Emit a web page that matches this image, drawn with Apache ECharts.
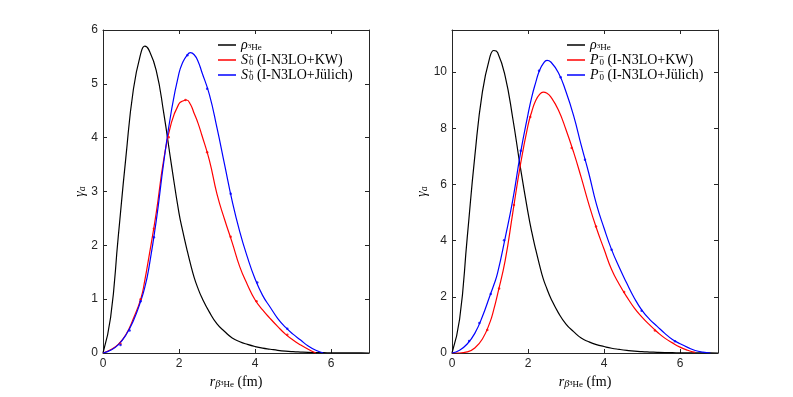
<!DOCTYPE html>
<html>
<head>
<meta charset="utf-8">
<script src="https://cdn.jsdelivr.net/npm/echarts@6/dist/echarts.min.js"></script>
<style>
  html, body { margin: 0; padding: 0; background: #fff; }
  #chart { width: 793px; height: 397px; }
</style>
</head>
<body>
<div id="chart"></div>
<script>
// r grid (fm), shared by all curves (denser round the peaks)
const rGrid = [0, 0.2, 0.4, 0.6, 0.8, 1.0, 1.1, 1.2, 1.4, 1.6, 1.8, 2.0, 2.1, 2.2, 2.3, 2.4, 2.5, 2.6,
  2.8, 3.0, 3.2, 3.4, 3.6, 3.8, 4.0, 4.2, 4.4, 4.6, 4.8, 5.0, 5.2, 5.4, 5.6, 5.8, 6.0, 6.2, 6.4, 6.6, 6.8, 7.0];

// left panel: S0+
const rhoLeft = [0, 0.66, 2.15, 3.62, 4.9, 5.58, 5.7, 5.64, 5.25, 4.45, 3.5, 2.6, 2.26, 1.95, 1.66, 1.4, 1.2, 1.03,
  0.76, 0.54, 0.4, 0.28, 0.21, 0.16, 0.12, 0.09, 0.07, 0.05, 0.035, 0.025, 0.018, 0.012, 0.008, 0.006, 0.004,
  0.003, 0.002, 0.001, 0.001, 0];
const sKwLeft = [0, 0.06, 0.16, 0.34, 0.64, 1.02, 1.35, 1.75, 2.6, 3.6, 4.28, 4.63, 4.68, 4.7, 4.62, 4.45, 4.27, 4.05,
  3.58, 2.95, 2.48, 2.05, 1.6, 1.27, 0.99, 0.8, 0.64, 0.49, 0.35, 0.24, 0.15, 0.07, 0];
const sJuLeft = [0, 0.05, 0.15, 0.33, 0.6, 0.98, 1.22, 1.55, 2.45, 3.55, 4.5, 5.2, 5.4, 5.52, 5.58, 5.54, 5.42, 5.22,
  4.8, 4.18, 3.5, 2.82, 2.25, 1.78, 1.38, 1.07, 0.85, 0.64, 0.48, 0.35, 0.24, 0.13, 0.05, 0];
const sKwMarks = [[0.46, 0.17], [0.99, 1.0], [1.34, 2.31], [1.73, 4.01], [2.17, 4.7], [2.74, 3.73],
  [3.36, 2.16], [4.04, 0.96], [4.85, 0.34]];
const sJuMarks = [[0.46, 0.15], [0.7, 0.42], [0.99, 0.96], [1.34, 2.15], [2.22, 5.53], [2.74, 4.91],
  [3.36, 2.96], [4.06, 1.31], [4.85, 0.45]];

// right panel: P0-
const rhoRight = [0, 1.2, 4.1, 7.0, 9.3, 10.55, 10.77, 10.7, 9.85, 8.35, 6.6, 5.0, 4.3, 3.7, 3.15, 2.65, 2.28, 1.95,
  1.43, 1.03, 0.76, 0.53, 0.4, 0.3, 0.23, 0.17, 0.13, 0.095, 0.066, 0.047, 0.034, 0.023, 0.015, 0.011, 0.008,
  0.005, 0.004, 0.002, 0.001, 0];
const pKwRight = [0, 0, 0.04, 0.18, 0.5, 1.1, 1.55, 2.1, 3.3, 5.0, 6.7, 8.1, 8.6, 8.98, 9.2, 9.29, 9.25, 9.12,
  8.65, 7.95, 7.15, 6.25, 5.3, 4.45, 3.7, 2.97, 2.45, 2.0, 1.6, 1.28, 1.0, 0.75, 0.53, 0.36, 0.21, 0.1, 0.02];
const pJuRight = [0, 0.1, 0.32, 0.7, 1.3, 2.05, 2.42, 2.85, 4.1, 5.45, 7.1, 8.5, 9.12, 9.62, 10.05, 10.3, 10.42, 10.36,
  9.98, 9.3, 8.45, 7.4, 6.4, 5.3, 4.45, 3.68, 3.05, 2.48, 1.95, 1.52, 1.2, 0.95, 0.7, 0.48, 0.33, 0.2, 0.09, 0.03, 0];
const pKwMarks = [[0.93, 0.82], [1.24, 2.3], [1.63, 5.27], [2.06, 8.4], [3.15, 7.3], [3.79, 4.5],
  [4.53, 2.17], [5.34, 0.8]];
const pJuMarks = [[0.45, 0.43], [0.72, 1.07], [1.02, 2.1], [1.37, 4.01], [1.81, 7.2], [2.29, 10.05],
  [2.86, 9.82], [3.5, 6.88], [4.2, 3.68], [4.99, 1.5], [5.87, 0.42]];

const xTicks = { min: 0, max: 7, interval: 2 };
const yTicksLeft = { min: 0, max: 6, interval: 1 };
const yTicksRight = { min: 0, max: 11.5, interval: 2 };

const axisColor = '#262626';
const serif = 'Liberation Serif';

const legendNames = {
  rhoL: '{i|ρ}{t|3}{s|He}',
  sKw: '{i|S}{p|+}{s|0} {n|(I-N3LO+KW)}',
  sJu: '{i|S}{p|+}{s|0} {n|(I-N3LO+Jülich)}',
  rhoR: '{i|ρ}{t|3}{s|He}',
  pKw: '{i|P}{p|−}{s|0} {n|(I-N3LO+KW)}',
  pJu: '{i|P}{p|−}{s|0} {n|(I-N3LO+Jülich)}'
};

const rich = {
  i: { fontFamily: serif, fontStyle: 'italic', fontSize: 14, lineHeight: 15, color: '#000' },
  n: { fontFamily: serif, fontSize: 14, lineHeight: 15, color: '#000' },
  s: { fontFamily: serif, fontSize: 9, lineHeight: 7, verticalAlign: 'bottom', color: '#000' },
  p: { fontFamily: serif, fontSize: 9, lineHeight: 7, verticalAlign: 'top', width: 1, color: '#000' },
  t: { fontFamily: serif, fontSize: 7, lineHeight: 7, verticalAlign: 'bottom', padding: [0, 0, 3, 0], color: '#000' },
  si: { fontFamily: serif, fontStyle: 'italic', fontSize: 10, lineHeight: 8, verticalAlign: 'bottom', color: '#000' }
};

function zip(ys) {
  return ys.map((y, i) => [rGrid[i], y]);
}

function xAxes(gi) {
  const base = {
    type: 'value', gridIndex: gi, ...xTicks,
    axisLine: { show: true, onZero: false, lineStyle: { color: axisColor, width: 1 } },
    axisTick: { show: true, inside: true, length: 4, lineStyle: { color: axisColor } },
    splitLine: { show: false }
  };
  return [
    Object.assign({}, base, {
      position: 'bottom',
      axisLabel: { color: axisColor, fontFamily: 'Liberation Sans', fontSize: 12, margin: 5, showMaxLabel: false },
      name: '{i|r}{si|β}{t|3}{s|He} {n|(fm)}',
      nameLocation: 'middle', nameGap: 19,
      nameTextStyle: { color: axisColor, rich: rich }
    }),
    Object.assign({}, base, { position: 'top', axisLabel: { show: false } })
  ];
}

function yAxes(gi, ticks) {
  const base = {
    type: 'value', gridIndex: gi, ...ticks,
    axisLine: { show: true, onZero: false, lineStyle: { color: axisColor, width: 1 } },
    axisTick: { show: true, inside: true, length: 4, lineStyle: { color: axisColor } },
    splitLine: { show: false }
  };
  return [
    Object.assign({}, base, {
      position: 'left',
      axisLabel: { color: axisColor, fontFamily: 'Liberation Sans', fontSize: 12, margin: 5, showMaxLabel: ticks.max % ticks.interval === 0 },
      name: '{i|γ}{si|a}',
      nameLocation: 'middle', nameRotate: 90, nameGap: 14,
      nameTextStyle: { color: axisColor, rich: rich }
    }),
    Object.assign({}, base, { position: 'right', axisLabel: { show: false } })
  ];
}

function curve(name, data, color, ax) {
  return {
    name: name, type: 'line', xAxisIndex: ax, yAxisIndex: ax, data: data,
    showSymbol: false, smooth: 0.5,
    lineStyle: { color: color, width: 1.2 }, itemStyle: { color: color },
    emphasis: { disabled: true }, animation: false
  };
}

function marks(data, color, ax) {
  return {
    type: 'scatter', xAxisIndex: ax, yAxisIndex: ax, data: data,
    symbol: 'circle', symbolSize: 2.5, itemStyle: { color: color },
    emphasis: { disabled: true }, animation: false, z: 5
  };
}

function legend(names, left) {
  return {
    data: names, orient: 'vertical', left: left, top: 38, padding: 0,
    itemWidth: 18, itemHeight: 1.5, itemGap: 0, icon: 'rect',
    formatter: n => legendNames[n],
    textStyle: { fontFamily: serif, fontSize: 14, color: '#000', rich: rich },
    selectedMode: false
  };
}

const chart = echarts.init(document.getElementById('chart'), null, { renderer: 'canvas' });
chart.setOption({
  backgroundColor: '#fff',
  animation: false,
  grid: [
    { left: 103, right: 424, top: 30, bottom: 44, containLabel: false, outerBoundsMode: 'none' },
    { left: 452, right: 75, top: 30, bottom: 44, containLabel: false, outerBoundsMode: 'none' }
  ],
  // axes 0,1 -> left panel (bottom/top, left/right); 2,3 -> right panel
  xAxis: [...xAxes(0), ...xAxes(1)],
  yAxis: [...yAxes(0, yTicksLeft), ...yAxes(1, yTicksRight)],
  legend: [legend(['rhoL', 'sKw', 'sJu'], 218), legend(['rhoR', 'pKw', 'pJu'], 567)],
  series: [
    curve('rhoL', zip(rhoLeft), '#000000', 0),
    curve('sKw', zip(sKwLeft), '#ff0000', 0),
    curve('sJu', zip(sJuLeft), '#0000ff', 0),
    marks(sKwMarks, '#ff0000', 0),
    marks(sJuMarks, '#0000ff', 0),
    curve('rhoR', zip(rhoRight), '#000000', 2),
    curve('pKw', zip(pKwRight), '#ff0000', 2),
    curve('pJu', zip(pJuRight), '#0000ff', 2),
    marks(pKwMarks, '#ff0000', 2),
    marks(pJuMarks, '#0000ff', 2)
  ]
});
</script>
</body>
</html>
